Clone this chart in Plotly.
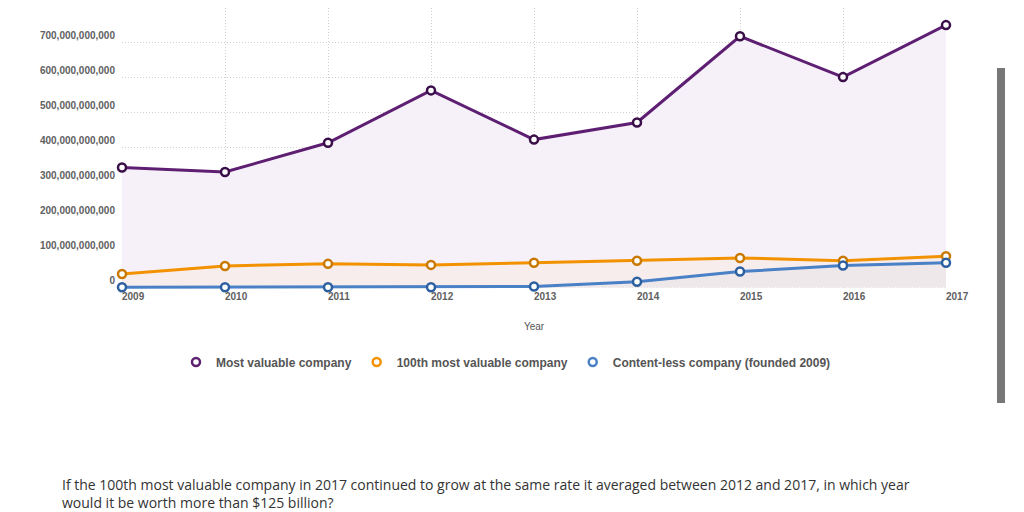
import plotly.graph_objects as go

years = [2009, 2010, 2011, 2012, 2013, 2014, 2015, 2016, 2017]
most_valuable = [343e9, 330e9, 414e9, 564e9, 423e9, 472e9, 719e9, 602e9, 751e9]
hundredth = [38e9, 61e9, 67e9, 64e9, 70e9, 76e9, 84e9, 76e9, 89e9]
contentless = [0, 0, 0, 0, 2e9, 16e9, 45e9, 62e9, 70e9]

y_ticks = [0, 100e9, 200e9, 300e9, 400e9, 500e9, 600e9, 700e9]
y_ticktext = ["0", "100,000,000,000", "200,000,000,000", "300,000,000,000",
              "400,000,000,000", "500,000,000,000", "600,000,000,000", "700,000,000,000"]

series = [
    ("Most valuable company", most_valuable, "#5e1f72", "#3a0e48", "#f6f1f8"),
    ("100th most valuable company", hundredth, "#f39200", "#c97800", "#f8eded"),
    ("Content-less company (founded 2009)", contentless, "#4a80c6", "#2c5f9f", "#eee8eb"),
]

fig = go.Figure()
for name, vals, lc, mc, fc in series:
    fig.add_trace(go.Scatter(
        x=years, y=vals, name=name, mode="lines+markers", showlegend=False,
        line=dict(color=lc, width=3),
        marker=dict(symbol="circle", size=8, color="white", line=dict(color=mc, width=2.5)),
        fill="tozeroy", fillcolor=fc, cliponaxis=False,
    ))
# legend entries showing only the circle marker
for name, vals, lc, mc, fc in series:
    fig.add_trace(go.Scatter(
        x=[None], y=[None], name=name, mode="markers",
        marker=dict(symbol="circle", size=8, color="white", line=dict(color=lc, width=2.5)),
    ))

question = ("If the 100th most valuable company in 2017 continued to grow at the same rate it averaged between 2012 and 2017, in which year"
            "<br>would it be worth more than $125 billion?")

PH = 281.0
fig.update_layout(
    width=1024, height=512,
    margin=dict(l=114, r=86, t=0, b=512 - 281),
    paper_bgcolor="white", plot_bgcolor="white",
    font=dict(family="Liberation Sans, Arial, sans-serif", color="#555"),
    showlegend=True,
    legend=dict(orientation="h", x=0.466, xanchor="center", y=(289 - 362) / PH, yanchor="middle",
                font=dict(size=12, color="#555", weight="bold"), itemwidth=30),
    xaxis=dict(
        range=[2009, 2017], tickvals=years, ticktext=[str(y) for y in years],
        showgrid=True, gridcolor="#d0d0d0", griddash="1px,2px", gridwidth=1,
        zeroline=False, showline=False, ticks="",
        ticklabelposition="outside right",
        tickfont=dict(size=10, color="#606060", weight="bold"),
        title=dict(text="Year", font=dict(size=10, color="#555"), standoff=21),
    ),
    yaxis=dict(
        range=[-5e9, 8.0e11], tickvals=y_ticks, ticktext=y_ticktext,
        showgrid=True, gridcolor="#d0d0d0", griddash="1px,2px", gridwidth=1,
        zeroline=False, showline=False, ticks="",
        ticklabelposition="outside top", ticklabelstandoff=6,
        tickfont=dict(size=10, color="#606060", weight="bold"),
    ),
    annotations=[dict(
        text=question, xref="paper", yref="paper", x=(60 - 122) / 824, y=(289 - 473) / PH,
        xanchor="left", yanchor="top", align="left", showarrow=False,
        font=dict(family="Open Sans", size=14, color="#333"),
    )],
    shapes=[dict(type="rect", xref="paper", yref="paper",
                 x0=(997 - 122) / 824, x1=(1005 - 122) / 824,
                 y0=(289 - 403) / PH, y1=(289 - 68) / PH,
                 fillcolor="#777", line=dict(width=0))],
)

fig.write_html("out.html")
